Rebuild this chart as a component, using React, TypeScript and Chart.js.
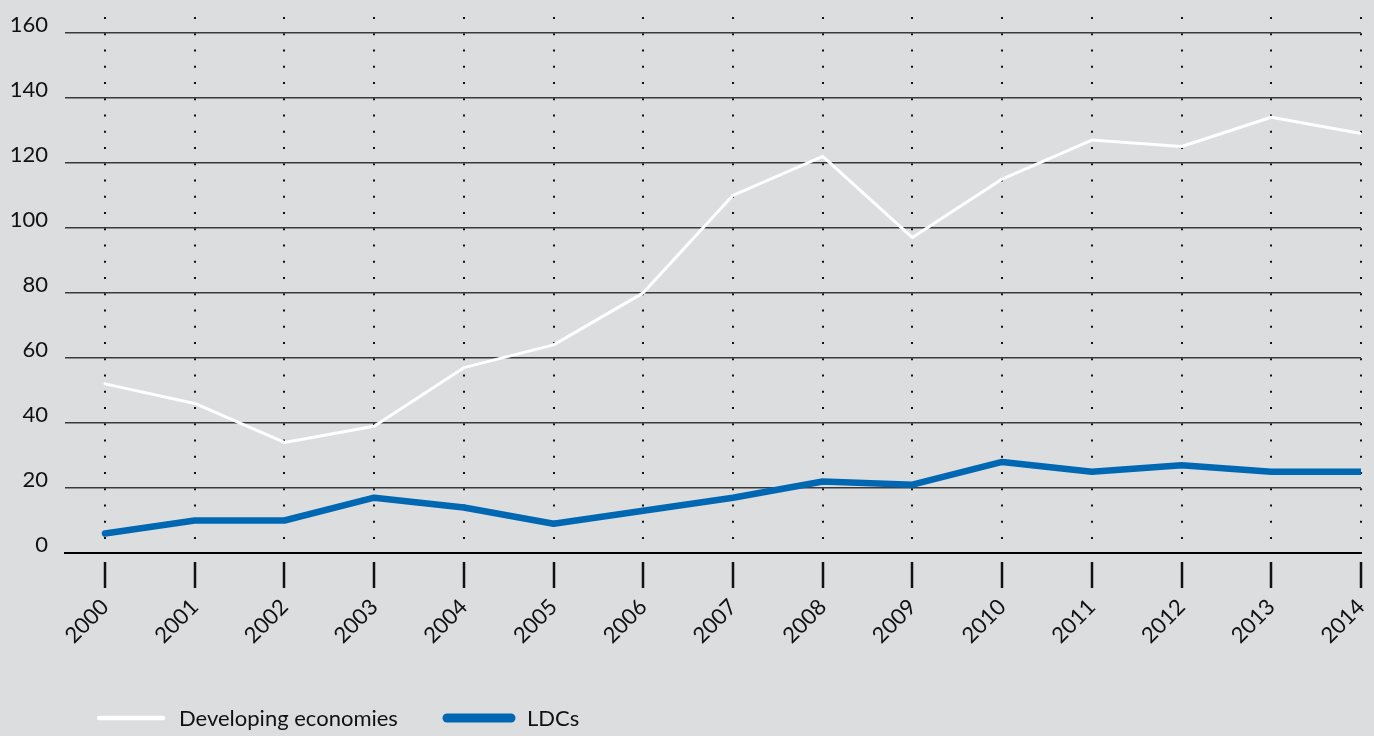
import React, { useEffect, useRef } from "react";
import { Chart, registerables } from "chart.js";

Chart.register(...registerables);

const years = [2000, 2001, 2002, 2003, 2004, 2005, 2006, 2007, 2008, 2009, 2010, 2011, 2012, 2013, 2014];
const developing = [52, 46, 34, 39, 57, 64, 80, 110, 122, 97, 115, 127, 125, 134, 129];
const ldcs = [6, 10, 10, 17, 14, 9, 13, 17, 22, 21, 28, 25, 27, 25, 25];
const yTicks = [0, 20, 40, 60, 80, 100, 120, 140, 160];
const seriesNames = ["Developing economies", "LDCs"];
const seriesColors = ["#ffffff", "#0068b3"];

const FONT = "Lato, 'Noto Sans', sans-serif";
const BG = "#dcdddf";

const legendPlugin = {
  id: "customLegend",
  afterDraw(chart: any) {
    const ctx = chart.ctx;
    const starts = [99, 447];
    const widths = [4.5, 9];
    const y = 718;
    chart.data.datasets.forEach((ds: any, i: number) => {
      const x0 = starts[i];
      ctx.save();
      ctx.strokeStyle = ds.borderColor;
      ctx.lineWidth = widths[i];
      ctx.lineCap = "round";
      ctx.beginPath();
      ctx.moveTo(x0, y);
      ctx.lineTo(x0 + 64, y);
      ctx.stroke();
      ctx.fillStyle = "#111111";
      ctx.font = `22px ${FONT}`;
      ctx.textBaseline = "middle";
      ctx.textAlign = "left";
      ctx.fillText(ds.label, x0 + 80, y + 1);
      ctx.restore();
    });
  },
};

export default function App() {
  const ref = useRef<HTMLCanvasElement | null>(null);

  useEffect(() => {
    if (!ref.current) return;
    const chart = new Chart(ref.current, {
      type: "line",
      data: {
        datasets: [
          {
            label: seriesNames[0],
            data: years.map((yr, i) => ({ x: yr, y: developing[i] })),
            borderColor: seriesColors[0],
            backgroundColor: seriesColors[0],
            borderWidth: 3,
            pointRadius: 0,
            tension: 0,
            borderJoinStyle: "round",
            borderCapStyle: "round",
          },
          {
            label: seriesNames[1],
            data: years.map((yr, i) => ({ x: yr, y: ldcs[i] })),
            borderColor: seriesColors[1],
            backgroundColor: seriesColors[1],
            borderWidth: 6.5,
            pointRadius: 0,
            tension: 0,
            borderJoinStyle: "round",
            borderCapStyle: "round",
          },
        ],
      },
      options: {
        animation: false,
        responsive: true,
        maintainAspectRatio: false,
        layout: { padding: { left: 0, right: 13, top: 17, bottom: 0 } },
        plugins: {
          legend: { display: false },
          tooltip: { enabled: false },
        },
        scales: {
          x: {
            type: "linear",
            position: "bottom",
            min: years[0] - 40 / 89.71,
            max: years[years.length - 1],
            afterBuildTicks: (axis: any) => {
              axis.ticks = years.map((v) => ({ value: v }));
            },
            afterFit: (axis: any) => {
              axis.height = 183;
              axis.paddingLeft = 0;
              axis.paddingRight = 0;
            },
            ticks: {
              autoSkip: false,
              minRotation: 45,
              maxRotation: 45,
              padding: 6,
              color: "#111111",
              font: { family: FONT, size: 22 },
              callback: (v: any) => String(v),
            },
            grid: {
              color: "#111111",
              lineWidth: 2,
              drawTicks: true,
              tickLength: 35,
              tickColor: "#111111",
              tickWidth: 2.5,
              tickBorderDash: [0, 8, 27, 100],
            },
            border: {
              display: true,
              color: "#000000",
              width: 2,
              dash: [2, 14.25],
            },
          },
          y: {
            type: "linear",
            min: 0,
            max: 164.83,
            afterBuildTicks: (axis: any) => {
              axis.ticks = yTicks.map((v) => ({ value: v }));
            },
            afterFit: (axis: any) => {
              axis.width = 65;
              axis.paddingTop = 0;
              axis.paddingBottom = 0;
            },
            ticks: {
              padding: 17,
              labelOffset: -8,
              color: "#111111",
              font: { family: FONT, size: 22 },
              callback: (v: any) => String(v),
            },
            grid: {
              color: (c: any) => (c.tick && c.tick.value === 0 ? "#000000" : "#3a3a3a"),
              lineWidth: (c: any) => (c.tick && c.tick.value === 0 ? 2 : 1.5),
              drawTicks: false,
            },
            border: { display: false },
          },
        },
      },
      plugins: [legendPlugin],
    } as any);
    return () => chart.destroy();
  }, []);

  return (
    <div
      style={{
        position: "fixed",
        left: 0,
        top: 0,
        width: "1374px",
        height: "736px",
        background: BG,
      }}
    >
      <canvas ref={ref} />
    </div>
  );
}
